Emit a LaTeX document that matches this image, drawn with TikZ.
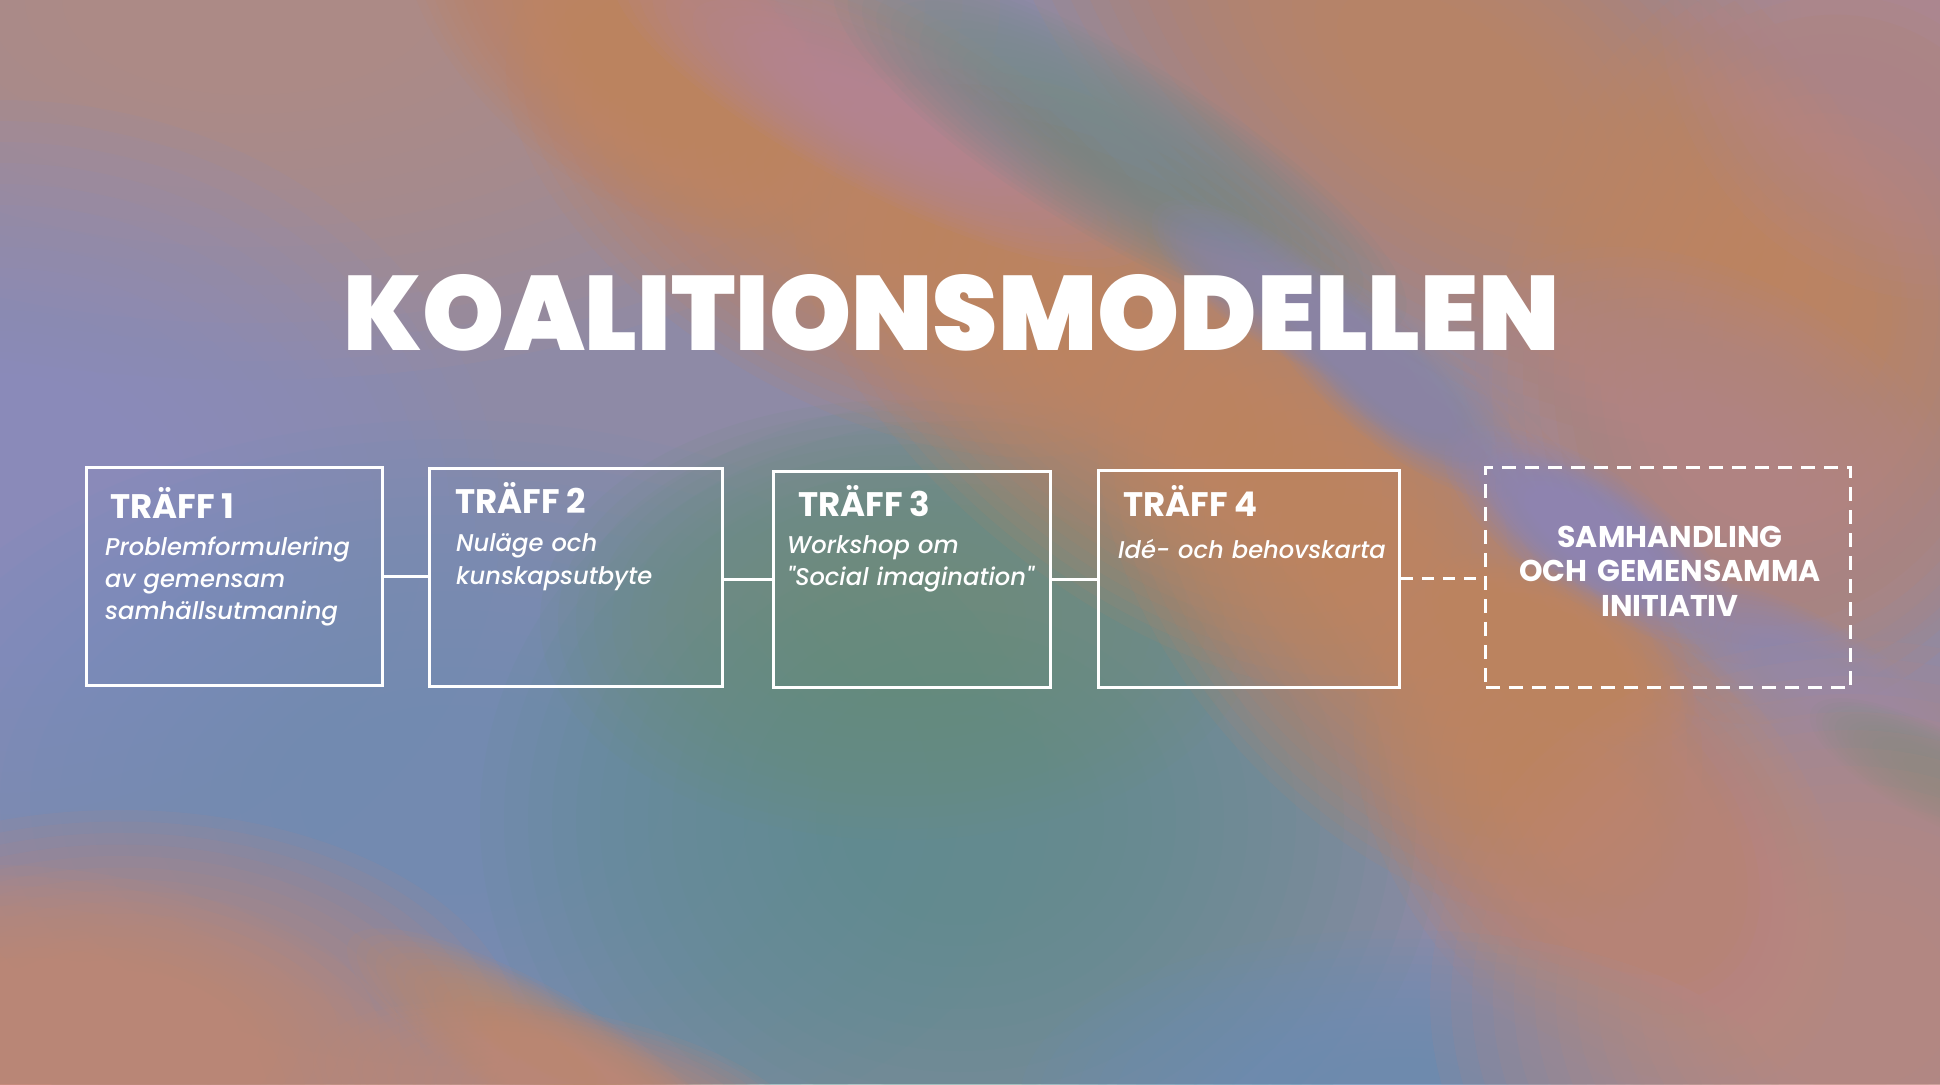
\documentclass[tikz,border=0pt]{standalone}
\usepackage{fontspec}
\usepackage{graphicx}
\setmainfont{Poppins}
\newfontfamily\titlefont{Poppins Black}
\newfontfamily\subfont{Poppins Medium Italic}[Ligatures=TeXOff]
\definecolor{cBase}{HTML}{8E8AA6}
\definecolor{cRose}{HTML}{B88A84}
\definecolor{cPurp}{HTML}{8A8AC2}
\definecolor{cBlue}{HTML}{7290B9}
\definecolor{cTeal}{HTML}{60908F}
\definecolor{cGreen}{HTML}{6D8C7D}
\definecolor{cOrange}{HTML}{C4835F}
\definecolor{cMauve}{HTML}{B4868F}
\definecolor{cPink}{HTML}{B3869C}
\definecolor{cGrey}{HTML}{77898A}
\definecolor{cLilac}{HTML}{8E8AB8}
\definecolor{cDusk}{HTML}{8A89AC}
\definecolor{cSea}{HTML}{5E9688}
\definecolor{cSalmon}{HTML}{C28676}
\definecolor{cEdge}{HTML}{C2886A}
\definecolor{cRosy}{HTML}{BF877F}
\definecolor{cPinkMauve}{HTML}{B0868B}
\definecolor{cBottomBlue}{HTML}{6C90B6}
% soft blob: centre x, centre y, x radius, y radius, angle, colour
\newcommand\softblob[6]{%
  \foreach \s in {1.00,0.95,...,0.24}{%
    \fill[#6, fill opacity=0.1, rotate around={#5:(#1,#2)}]
      (#1,#2) ellipse [x radius=\s*#3, y radius=\s*#4];
  }}
\tikzset{
  box/.style={draw=white, line width=3pt, inner sep=0pt},
  dbox/.style={draw=white, line width=3pt, dash pattern=on 14pt off 9pt, inner sep=0pt},
  link/.style={draw=white, line width=3pt},
  dlink/.style={draw=white, line width=3pt, dash pattern=on 12pt off 9pt},
  head/.style={anchor=base west, inner sep=0pt, text=white, font=\fontsize{34}{40}\selectfont\bfseries},
  sub/.style={anchor=base west, inner sep=0pt, text=white, text width=300pt, align=left, font=\fontsize{24.2}{32.2}\selectfont\subfont},
  goal/.style={anchor=base, inner sep=0pt, text=white, text width=360pt, align=center, font=\fontsize{30}{34.5}\selectfont\bfseries},
}
\begin{document}
\begin{tikzpicture}[x=1pt, y=-1pt]
\useasboundingbox (0,0) rectangle (1940,1084);
\clip (0,0) rectangle (1940,1084);
\fill[cBase] (0,0) rectangle (1940,1084);
% background blobs
\softblob{250}{0}{750}{380}{0}{cRose}
\softblob{0}{520}{500}{420}{0}{cPurp}
\softblob{450}{800}{600}{380}{0}{cBlue}
\softblob{960}{820}{480}{420}{0}{cTeal}
\softblob{900}{620}{360}{220}{0}{cGreen}
\softblob{620}{40}{260}{140}{-40}{cOrange}
\softblob{850}{200}{380}{200}{-30}{cOrange}
\softblob{1150}{380}{420}{220}{-38}{cOrange}
\softblob{1400}{600}{380}{220}{-48}{cOrange}
\softblob{1600}{830}{300}{200}{-50}{cOrange}
\softblob{1450}{80}{520}{260}{-35}{cOrange}
\softblob{1800}{330}{300}{400}{-15}{cOrange}
\softblob{1940}{0}{280}{300}{0}{cMauve}
\softblob{1720}{450}{280}{170}{-30}{cPinkMauve}
\softblob{880}{110}{300}{80}{-28}{cPink}
\softblob{1120}{150}{330}{90}{-31}{cGrey}
\softblob{1270}{290}{140}{50}{-35}{cDusk}
\softblob{1390}{380}{170}{60}{-40}{cDusk}
\softblob{1390}{380}{130}{45}{-40}{cDusk}
\softblob{1590}{535}{170}{65}{-34}{cLilac}
\softblob{1590}{535}{130}{50}{-34}{cLilac}
\softblob{1820}{685}{170}{60}{-32}{cLilac}
\softblob{1560}{650}{150}{70}{-30}{cOrange}
\softblob{1935}{775}{140}{45}{-28}{cSea}
\softblob{120}{1040}{400}{230}{0}{cSalmon}
\softblob{60}{1070}{380}{200}{-8}{cSalmon}
\softblob{540}{1050}{220}{60}{-30}{cEdge}
\softblob{560}{1100}{250}{90}{-10}{cSalmon}
\softblob{1400}{1100}{380}{170}{0}{cBottomBlue}
\softblob{1850}{1000}{420}{360}{0}{cRosy}
% title
\node[anchor=base west, inner sep=0pt, text=white] (title) at (343,350)
  {\resizebox{1216pt}{76pt}{\titlefont KOALITIONSMODELLEN}};
% boxes
\node[box, minimum width=295.7pt, minimum height=217.3pt] (b1) at (234.5,576.4) {};
\node[box, minimum width=293.2pt, minimum height=218pt] (b2) at (575.9,577.4) {};
\node[box, minimum width=277.1pt, minimum height=216pt] (b3) at (911.9,579) {};
\node[box, minimum width=300.7pt, minimum height=216.5pt] (b4) at (1249,578.8) {};
\node[dbox, minimum width=365pt, minimum height=220pt] (b5) at (1668.4,577.8) {};
% connectors
\draw[link] (b1.east) -- (b1.east -| b2.west);
\draw[link] (b2.east |- b3.west) -- (b3.west);
\draw[link] (b3.east) -- (b3.east -| b4.west);
\draw[dlink] (b4.east) -- (b4.east -| b5.west);
% texts
\node[head] (h1) at (110,518.4) {TRÄFF 1};
\node[sub] (s1) at (105,555.5) {Problemformulering\\av gemensam\\samhällsutmaning};
\node[head] (h2) at (455,513.5) {TRÄFF 2};
\node[sub] (s2) at (456,551.8) {Nuläge och\\kunskapsutbyte};
\node[head] (h3) at (798,516) {TRÄFF 3};
\node[sub] (s3) at (787,553) {Workshop om\\"Social imagination"};
\node[head] (h4) at (1123,516) {TRÄFF 4};
\node[sub] (s4) at (1118,558) {Idé- och behovskarta};
\node[goal] (g) at (1670,547) {SAMHANDLING\\OCH GEMENSAMMA\\INITIATIV};
\end{tikzpicture}
\end{document}
